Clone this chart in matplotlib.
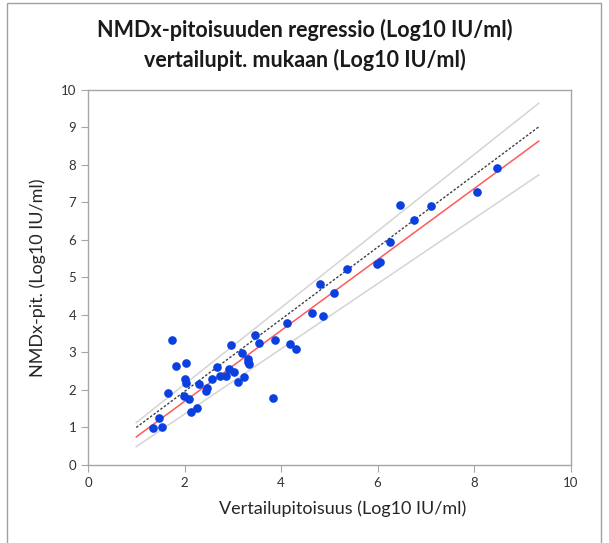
import matplotlib.pyplot as plt
from matplotlib.patches import Rectangle

# reference concentration (x) vs NMDx concentration (y), log10 IU/ml
vertailu = [1.35, 1.48, 1.53, 1.65, 1.74, 1.82, 2.00, 2.03, 2.03, 1.99,
            2.10, 2.13, 2.26, 2.29, 2.47, 2.45, 2.56, 2.67, 2.74, 2.86,
            2.92, 2.96, 3.03, 3.11, 3.23, 3.20, 3.32, 3.32, 3.33, 3.45,
            3.54, 3.83, 3.87, 4.12, 4.19, 4.32, 4.65, 4.80, 4.86, 5.09,
            5.37, 5.99, 6.06, 6.25, 6.46, 6.76, 7.11, 8.07, 8.47]
nmdx = [0.98, 1.24, 1.02, 1.93, 3.34, 2.64, 2.28, 2.18, 2.71, 1.85,
        1.76, 1.41, 1.51, 2.15, 2.04, 1.97, 2.28, 2.60, 2.36, 2.36,
        2.55, 3.20, 2.47, 2.22, 2.34, 2.99, 2.82, 2.75, 2.68, 3.47,
        3.26, 1.79, 3.34, 3.78, 3.23, 3.09, 4.05, 4.83, 3.96, 4.59,
        5.22, 5.36, 5.40, 5.95, 6.93, 6.53, 6.90, 7.28, 7.91]

# line end points (x0, x1) and (y0, y1)
line_x = [1.0, 9.34]
identity_y = [1.0, 9.01]
regr_y = [0.75, 8.63]
upper_y = [1.13, 9.64]
lower_y = [0.49, 7.73]

fig = plt.figure(figsize=(6.09, 5.43), dpi=100)
ax = fig.add_axes([0.1445, 0.1436, 0.7925, 0.6912])

ax.plot(line_x, upper_y, color='#d4d4d4', lw=1.1, zorder=1)
ax.plot(line_x, lower_y, color='#d4d4d4', lw=1.1, zorder=1)
ax.plot(line_x, regr_y, color='#ff5a5a', lw=1.1, zorder=2)
ax.plot(line_x, identity_y, color='#404040', lw=1.0, ls=(0, (1.8, 1.3)), zorder=2)
ax.plot(vertailu, nmdx, 'o', color='#0a3fe0', ms=5.2, mec='#0a3fe0', zorder=3)

ax.set_xlim(0, 10)
ax.set_ylim(0, 10)
ax.set_xticks(range(0, 11, 2))
ax.set_yticks(range(0, 11))
for s in ax.spines.values():
    s.set_color('#a6a6a6')
    s.set_linewidth(1.0)
ax.tick_params(direction='out', length=5, color='#a6a6a6', labelsize=9.5,
               labelcolor='#333333')
for lab in ax.get_xticklabels() + ax.get_yticklabels():
    lab.set_family('Lato')

ax.set_xlabel('Vertailupitoisuus (Log10 IU/ml)', fontsize=13, family='Lato',
              color='#262626')
ax.xaxis.set_label_coords(0.528, -0.095)
ax.set_ylabel('NMDx-pit. (Log10 IU/ml)', fontsize=13, family='Lato',
              color='#262626', labelpad=11)

fig.text(0.5, 0.945, 'NMDx-pitoisuuden regressio (Log10 IU/ml)', ha='center',
         va='center', fontsize=15.5, fontweight='bold', family='Lato', color='#1a1a1a')
fig.text(0.5, 0.889, 'vertailupit. mukaan (Log10 IU/ml)', ha='center',
         va='center', fontsize=15.5, fontweight='bold', family='Lato', color='#1a1a1a')

# outer chart frame
fig.patches.append(Rectangle((7 / 609, -0.05), 594 / 609, 1.0 - 3 / 543 + 0.05,
                             transform=fig.transFigure, fill=False,
                             edgecolor='#a0a0a0', lw=1.0))

fig.savefig('out.png', dpi=100)
